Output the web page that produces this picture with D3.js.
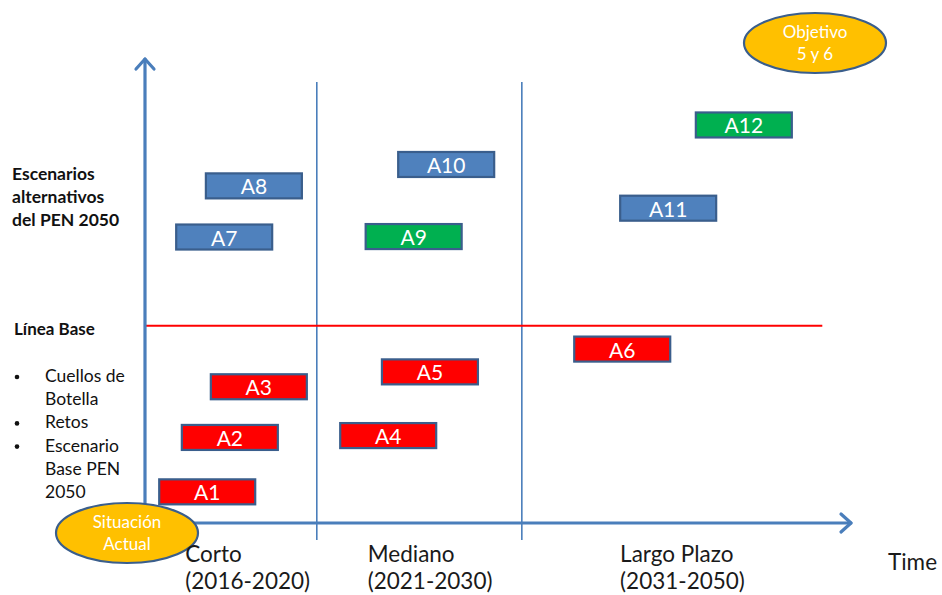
<!DOCTYPE html>
<html>
<head>
<meta charset="utf-8">
<script src="https://cdn.jsdelivr.net/npm/d3@7"></script>
<style>
  html, body { margin: 0; padding: 0; background: #fff; }
  svg { display: block; font-family: Lato, "Open Sans", sans-serif; }
</style>
</head>
<body>
<svg id="chart" width="942" height="595"></svg>
<script>
// Actions placed on a progress (time) / ambition plane
const actions = ["A1", "A2", "A3", "A4", "A5", "A6", "A7", "A8", "A9", "A10", "A11", "A12"];
const progress = [8.8, 12.0, 16.1, 34.4, 40.3, 67.5, 11.2, 15.4, 38.0, 42.6, 74.0, 84.7];
const level = [6.7, 18.4, 29.3, 18.8, 32.5, 37.4, 61.5, 72.5, 61.6, 77.1, 67.7, 85.6];
const kind = ["base", "base", "base", "base", "base", "base", "alt", "alt", "goal", "alt", "alt", "goal"];

// Horizon boundaries and the baseline level
const horizonBreaks = [24.3, 53.3];
const baselineLevel = 42.4;
const baselineEnd = 95.8;

const horizonNames = ["Corto", "Mediano", "Largo Plazo"];
const horizonYears = ["(2016-2020)", "(2021-2030)", "(2031-2050)"];
const horizonLabelAt = [5.7, 31.5, 67.2];

const upperLabel = ["Escenarios", "alternativos", "del PEN 2050"];
const baseLabel = "Línea Base";
const bulletItems = [["Cuellos de", "Botella"], ["Retos"], ["Escenario", "Base PEN", "2050"]];

const svg = d3.select("#chart");

const x = d3.scaleLinear().domain([0, 100]).range([145, 852]);
const y = d3.scaleLinear().domain([0, 100]).range([523, 58]);

const axisBlue = "#4A7EBB";
const fills = { base: "#FF0000", alt: "#4F81BD", goal: "#00B050" };
const boxW = 96, boxH = 25;

// Horizon separators
svg.selectAll("line.sep").data(horizonBreaks).join("line")
  .attr("class", "sep")
  .attr("x1", d => x(d)).attr("x2", d => x(d))
  .attr("y1", 82).attr("y2", 540)
  .attr("stroke", axisBlue).attr("stroke-width", 1.6);

// Baseline
svg.append("line")
  .attr("x1", x(0)).attr("x2", x(baselineEnd))
  .attr("y1", y(baselineLevel)).attr("y2", y(baselineLevel))
  .attr("stroke", "#FF0000").attr("stroke-width", 2);

// Axes with open arrow heads
const axisG = svg.append("g")
  .attr("stroke", axisBlue).attr("stroke-width", 3.2)
  .attr("fill", "none").attr("stroke-linecap", "round").attr("stroke-linejoin", "round");
axisG.append("line").attr("x1", x(0)).attr("x2", x(0)).attr("y1", y(0) + 2).attr("y2", y(100) + 1);
axisG.append("polyline")
  .attr("points", [[x(0) - 9, y(100) + 11], [x(0), y(100) + 1], [x(0) + 9, y(100) + 11]].map(p => p.join(",")).join(" "));
axisG.append("line").attr("x1", x(0) - 60).attr("x2", x(100) - 1).attr("y1", y(0)).attr("y2", y(0));
axisG.append("polyline")
  .attr("points", [[x(100) - 11, y(0) - 9], [x(100) - 1, y(0)], [x(100) - 11, y(0) + 9]].map(p => p.join(",")).join(" "));

// Action boxes
const boxes = svg.selectAll("g.action").data(actions).join("g")
  .attr("class", "action")
  .attr("transform", (d, i) => `translate(${x(progress[i])},${y(level[i])})`);
boxes.append("rect")
  .attr("x", -boxW / 2).attr("y", -boxH / 2)
  .attr("width", boxW).attr("height", boxH)
  .attr("fill", (d, i) => fills[kind[i]])
  .attr("stroke", "#3A5E8C").attr("stroke-width", 2.2);
boxes.append("text")
  .attr("text-anchor", "middle").attr("y", 8.5)
  .attr("fill", "#fff").attr("font-size", 21)
  .text(d => d);

// Ellipses: current situation and target
function badge(cx, cy, lines, baseDy) {
  const g = svg.append("g").attr("transform", `translate(${cx},${cy})`);
  g.append("ellipse").attr("rx", 71).attr("ry", 30)
    .attr("fill", "#FFC000").attr("stroke", "#3A5E8C").attr("stroke-width", 2.2);
  g.selectAll("text").data(lines).join("text")
    .attr("text-anchor", "middle")
    .attr("y", (d, i) => baseDy + i * 22)
    .attr("fill", "#FFFFFF").attr("font-size", 17)
    .text(d => d);
}
badge(127, 533, ["Situación", "Actual"], -5);
badge(815, 43, ["Objetivo", "5 y 6"], -5);

// Horizon labels
const hl = svg.selectAll("text.hz").data(horizonNames).join("text")
  .attr("class", "hz")
  .attr("x", (d, i) => x(horizonLabelAt[i]))
  .attr("fill", "#1a1a1a").attr("font-size", 22.5);
hl.append("tspan").attr("y", 562).text(d => d);
hl.append("tspan").attr("x", (d, i) => x(horizonLabelAt[i])).attr("y", 589).text((d, i) => horizonYears[i]);

svg.append("text").attr("x", 888).attr("y", 570)
  .attr("fill", "#1a1a1a").attr("font-size", 22.5).text("Time");

// Left-hand annotations
svg.append("text").attr("font-weight", "bold").attr("font-size", 17.5).attr("fill", "#111")
  .selectAll("tspan").data(upperLabel).join("tspan")
  .attr("x", 12).attr("y", (d, i) => 180 + i * 23).text(d => d);

svg.append("text").attr("x", 14).attr("y", 335)
  .attr("font-weight", "bold").attr("font-size", 17).attr("fill", "#111").text(baseLabel);

let row = 0;
const bulletG = svg.append("g").attr("font-size", 17.5).attr("fill", "#111");
bulletItems.forEach(item => {
  bulletG.append("circle").attr("cx", 17).attr("cy", 382 + row * 23.2 - 5).attr("r", 2.3).attr("fill", "#111");
  item.forEach(line => {
    bulletG.append("text").attr("x", 45).attr("y", 382 + row * 23.2).text(line);
    row++;
  });
});
</script>
</body>
</html>
